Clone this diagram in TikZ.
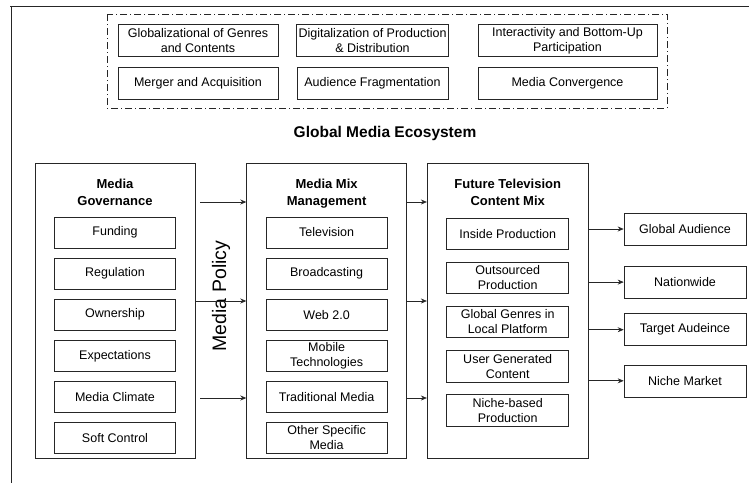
\documentclass[tikz,border=0pt]{standalone}
\usepackage{fontspec}
\setmainfont{Liberation Sans}
\usetikzlibrary{positioning, arrows.meta}
\tikzstyle{frame} = [rectangle, draw=black!85, line width=0.6pt, minimum width=160pt, minimum height=295pt, inner sep=0pt]
\tikzstyle{item} = [rectangle, draw=black!85, line width=0.6pt, minimum width=121pt, minimum height=31pt, inner sep=2pt, align=center, font=\fontsize{12.5}{15}\selectfont]
\tikzstyle{trend} = [item, minimum height=31.5pt]
\tikzstyle{heading} = [inner sep=0pt, align=center, font=\fontsize{13}{17}\selectfont\bfseries]
\tikzstyle{arrow} = [line width=0.7pt, draw=black!85, ->, >={Stealth[length=6pt, width=5pt]}]

\begin{document}
\begin{tikzpicture}[x=1pt, y=1pt]
        \useasboundingbox (0,0) rectangle (749,-483);
        % page frame
        \draw [black!85, line width=0.6pt] (10,-6) -- (749,-6);
        \draw [black!85, line width=0.6pt] (11,-6) -- (11,-483);

        % trends
        \draw [black!85, line width=0.6pt, dash pattern=on 7pt off 3pt on 1pt off 3pt] (107,-14) rectangle (667,-108);
        \node (globz) [trend, minimum width=160pt] at (198,-40.5) {Globalizational of Genres\\and Contents};
        \node (digit) [trend, minimum width=151pt] at (372.5,-40.5) {Digitalization of Production\\\& Distribution};
        \node (inter) [trend, minimum width=179pt] at (567.5,-40.5) {Interactivity and Bottom-Up\\Participation};
        \node (merger) [trend, minimum width=160pt, minimum height=32pt, below=10pt of globz] {Merger and Acquisition};
        \node (fragment) [trend, minimum width=151pt, minimum height=32pt, below=10pt of digit] {Audience Fragmentation};
        \node (converge) [trend, minimum width=179pt, minimum height=32pt, below=10pt of inter] {Media Convergence};

        \node (eco) [font=\fontsize{15.5}{18}\selectfont\bfseries] at (385,-133) {Global Media Ecosystem};

        % main frames
        \node (gov) [frame] at (115,-310.5) {};
        \node (mix) [frame, right=51pt of gov] {};
        \node (future) [frame, minimum width=161pt, right=20pt of mix] {};

        \node (govhead) [heading, below=16pt of gov.north] {Media\\Governance};
        \node (mixhead) [heading, below=16pt of mix.north] {Media Mix\\Management};
        \node (futhead) [heading, below=16pt of future.north] {Future Television\\Content Mix};

        % governance
        \node (fund) [item, below=54pt of gov.north] {Funding};
        \node (regu) [item, below=9.5pt of fund] {Regulation};
        \node (own) [item, below=9.5pt of regu] {Ownership};
        \node (expect) [item, below=9.5pt of own] {Expectations};
        \node (climate) [item, below=9.5pt of expect] {Media Climate};
        \node (soft) [item, below=9.5pt of climate] {Soft Control};

        % media mix
        \node (tv) [item, below=54pt of mix.north] {Television};
        \node (broad) [item, below=9.5pt of tv] {Broadcasting};
        \node (web) [item, below=9.5pt of broad] {Web 2.0};
        \node (mobile) [item, below=9.5pt of web] {Mobile\\Technologies};
        \node (trad) [item, below=9.5pt of mobile] {Traditional Media};
        \node (other) [item, below=9.5pt of trad] {Other Specific\\Media};

        % content mix
        \node (inside) [item, minimum width=122pt, minimum height=31.5pt, below=55pt of future.north] {Inside Production};
        \node (outsrc) [item, minimum width=122pt, minimum height=31.5pt, below=12pt of inside] {Outsourced\\Production};
        \node (genres) [item, minimum width=122pt, minimum height=31.5pt, below=12pt of outsrc] {Global Genres in\\Local Platform};
        \node (ugc) [item, minimum width=122pt, minimum height=31.5pt, below=12pt of genres] {User Generated\\Content};
        \node (nicheprod) [item, minimum width=122pt, minimum height=31.5pt, below=12pt of ugc] {Niche-based\\Production};

        % audiences
        \node (globaud) [item, minimum width=122pt, minimum height=32pt] at (685,-229) {Global Audience};
        \node (nation) [item, minimum width=122pt, minimum height=32pt, below=20.5pt of globaud] {Nationwide};
        \node (target) [item, minimum width=122pt, minimum height=32pt, below=15pt of nation] {Target Audeince};
        \node (nichemkt) [item, minimum width=122pt, minimum height=32pt, below=18.5pt of target] {Niche Market};

        \node (policy) [rotate=90, inner sep=0pt, font=\fontsize{19.5}{22}\selectfont] at (221,-296) {Media Policy};

        \draw [arrow] ([xshift=5pt, yshift=108.5pt]gov.east) -- ([yshift=108.5pt]mix.west);
        \draw [arrow] ([yshift=9.5pt]gov.east) -- ([yshift=9.5pt]mix.west);
        \draw [arrow] ([xshift=5pt, yshift=-87.5pt]gov.east) -- ([yshift=-87.5pt]mix.west);

        \draw [arrow] ([yshift=108.5pt]mix.east) -- ([yshift=108.5pt]future.west);
        \draw [arrow] ([yshift=9.5pt]mix.east) -- ([yshift=9.5pt]future.west);
        \draw [arrow] ([yshift=-87.5pt]mix.east) -- ([yshift=-87.5pt]future.west);

        \draw [arrow] (future.east |- globaud.west) -- (globaud.west);
        \draw [arrow] (future.east |- nation.west) -- (nation.west);
        \draw [arrow] (future.east |- target.west) -- (target.west);
        \draw [arrow] (future.east |- nichemkt.west) -- (nichemkt.west);
    \end{tikzpicture}
\end{document}
